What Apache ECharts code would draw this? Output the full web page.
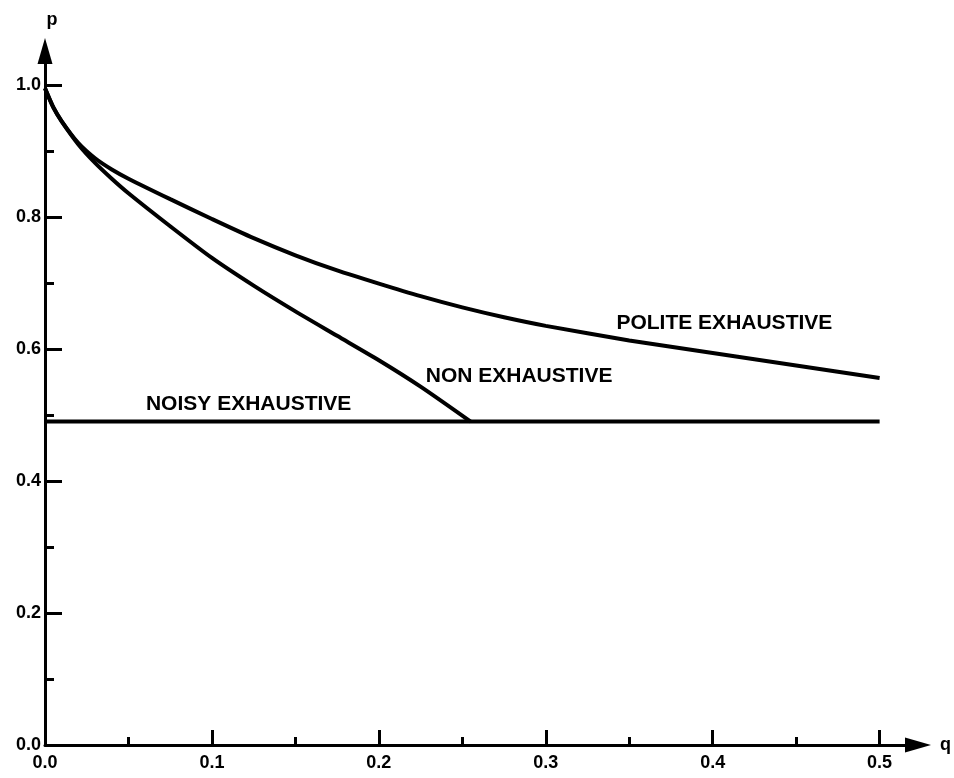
<!DOCTYPE html>
<html>
<head>
<meta charset="utf-8">
<script src="https://cdn.jsdelivr.net/npm/echarts@6/dist/echarts.min.js"></script>
<style>
  html, body { margin: 0; padding: 0; background: #fff; }
  #chart { width: 954px; height: 778px; }
</style>
</head>
<body>
<div id="chart"></div>
<script>
// axis ticks
const qTicks = [0, 0.1, 0.2, 0.3, 0.4, 0.5];
const qMinorTicks = [0.05, 0.15, 0.25, 0.35, 0.45];
const pTicks = [0, 0.2, 0.4, 0.6, 0.8, 1.0];
const pMinorTicks = [0.1, 0.3, 0.5, 0.7, 0.9];

// polite exhaustive
const politeQ = [0, 0.005, 0.01, 0.02, 0.03, 0.04, 0.05, 0.075, 0.1, 0.125, 0.15, 0.175, 0.2, 0.225, 0.25, 0.275, 0.3, 0.35, 0.4, 0.45, 0.5];
const politeP = [0.995, 0.966, 0.945, 0.912, 0.889, 0.872, 0.858, 0.827, 0.797, 0.768, 0.742, 0.719, 0.699, 0.680, 0.663, 0.648, 0.635, 0.613, 0.594, 0.575, 0.556];

// non exhaustive
const nonQ = [0, 0.005, 0.01, 0.02, 0.03, 0.04, 0.05, 0.075, 0.1, 0.125, 0.15, 0.175, 0.2, 0.225, 0.255];
const nonP = [0.995, 0.966, 0.945, 0.910, 0.882, 0.858, 0.836, 0.786, 0.738, 0.696, 0.657, 0.620, 0.583, 0.543, 0.49];

// noisy exhaustive
const noisyQ = [0, 0.5];
const noisyP = [0.49, 0.49];

// curve labels
const labelText = ['POLITE EXHAUSTIVE', 'NON EXHAUSTIVE', 'NOISY EXHAUSTIVE'];
const labelQ = [0.407, 0.284, 0.122];
const labelP = [0.639, 0.559, 0.517];

const zip = (xs, ys) => xs.map((x, i) => [x, ys[i]]);

const font = '"Liberation Sans", Arial, sans-serif';
const tickFont = { color: '#000', fontSize: 18, fontWeight: 'bold', fontFamily: font };

const chart = echarts.init(document.getElementById('chart'));

const lineSeries = (data) => ({
  type: 'line',
  data: data,
  showSymbol: false,
  smooth: 0.25,
  silent: true,
  lineStyle: { color: '#000', width: 4 },
  animation: false
});

chart.setOption({
  backgroundColor: '#fff',
  grid: { left: 45, right: 29, top: 51, bottom: 33, containLabel: false },
  xAxis: [{
    type: 'value',
    min: 0,
    max: 0.523,
    splitLine: { show: false },
    axisLine: {
      lineStyle: { color: '#000', width: 3 },
      symbol: ['none', 'triangle'],
      symbolSize: [15, 26]
    },
    axisTick: { inside: true, length: 15, customValues: qTicks, lineStyle: { color: '#000', width: 3 } },
    axisLabel: { customValues: qTicks, margin: 9, formatter: v => v.toFixed(1), ...tickFont },
    name: 'q',
    nameLocation: 'end',
    nameGap: 22,
    nameTextStyle: { color: '#000', fontSize: 18, fontWeight: 'bold', fontFamily: font }
  }, {
    type: 'value',
    min: 0,
    max: 0.523,
    position: 'bottom',
    splitLine: { show: false },
    axisLine: { show: false },
    axisTick: { inside: true, length: 8, customValues: qMinorTicks, lineStyle: { color: '#000', width: 3 } },
    axisLabel: { show: false }
  }],
  yAxis: [{
    type: 'value',
    min: 0,
    max: 1.0515,
    splitLine: { show: false },
    axisLine: {
      lineStyle: { color: '#000', width: 3 },
      symbol: ['none', 'triangle'],
      symbolSize: [15, 26]
    },
    axisTick: { inside: true, length: 17, customValues: pTicks, lineStyle: { color: '#000', width: 3 } },
    axisLabel: { customValues: pTicks, margin: 4, formatter: v => v.toFixed(1), ...tickFont },
    name: 'p',
    nameLocation: 'end',
    nameGap: 22,
    nameTextStyle: { color: '#000', fontSize: 18, fontWeight: 'bold', fontFamily: font, padding: [0, 0, 0, 14] }
  }, {
    type: 'value',
    min: 0,
    max: 1.0515,
    position: 'left',
    splitLine: { show: false },
    axisLine: { show: false },
    axisTick: { inside: true, length: 9, customValues: pMinorTicks, lineStyle: { color: '#000', width: 3 } },
    axisLabel: { show: false }
  }],
  series: [
    lineSeries(zip(politeQ, politeP)),
    lineSeries(zip(nonQ, nonP)),
    lineSeries(zip(noisyQ, noisyP)),
    {
      type: 'scatter',
      silent: true,
      animation: false,
      symbolSize: 1,
      itemStyle: { color: 'rgba(0,0,0,0)', opacity: 1 },
      data: labelText.map((t, i) => ({ name: t, value: [labelQ[i], labelP[i]] })),
      label: {
        show: true,
        position: 'inside',
        formatter: p => p.name,
        color: '#000',
        textBorderWidth: 0,
        fontSize: 21,
        fontWeight: 'bold',
        fontFamily: font
      }
    }
  ]
});
</script>
</body>
</html>
